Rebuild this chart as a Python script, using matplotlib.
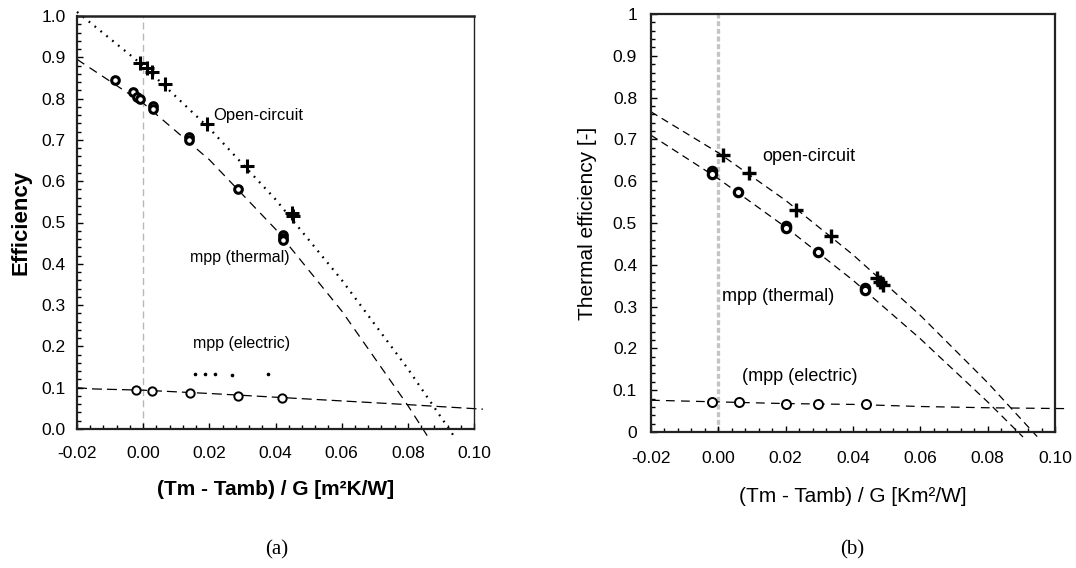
import matplotlib
matplotlib.use("Agg")
import matplotlib.pyplot as plt
from matplotlib.ticker import MultipleLocator, FixedLocator, FixedFormatter

plt.rcParams['font.family'] = ['Liberation Sans', 'DejaVu Sans']

# ---------------- Panel (a) data ----------------
a_oc_x = [-0.0009, 0.0011, 0.0026, 0.0067, 0.0193, 0.0313, 0.0450, 0.0452]
a_oc_y = [0.885, 0.873, 0.865, 0.835, 0.738, 0.636, 0.522, 0.515]

a_mppt_x = [-0.0085, -0.0030, -0.0020, -0.0010, 0.0029, 0.0030, 0.0140, 0.0140, 0.0288, 0.0422, 0.0422, 0.0423]
a_mppt_y = [0.845, 0.815, 0.805, 0.800, 0.782, 0.776, 0.707, 0.699, 0.580, 0.470, 0.463, 0.458]

a_mppe_x = [-0.0021, 0.0027, 0.0142, 0.0286, 0.0419]
a_mppe_y = [0.095, 0.091, 0.087, 0.079, 0.075]

a_oce_x = [0.0157, 0.0187, 0.0218, 0.0268, 0.0376]
a_oce_y = [0.132, 0.132, 0.132, 0.131, 0.132]

# curves
a_fit_oc_x = [-0.020, 0.000, 0.020, 0.040, 0.060, 0.080, 0.094]
a_fit_oc_y = [1.010, 0.880, 0.728, 0.556, 0.361, 0.146, -0.018]
a_fit_mppt_x = [-0.020, 0.000, 0.020, 0.040, 0.060, 0.080, 0.086]
a_fit_mppt_y = [0.895, 0.789, 0.652, 0.484, 0.286, 0.057, -0.018]
a_fit_mppe_x = [-0.020, -0.015, 0.000, 0.020, 0.040, 0.060, 0.080, 0.1027]
a_fit_mppe_y = [0.100, 0.097, 0.094, 0.086, 0.077, 0.068, 0.059, 0.048]

# ---------------- Panel (b) data ----------------
b_oc_x = [0.0013, 0.0090, 0.0231, 0.0334, 0.0470, 0.0480, 0.0490]
b_oc_y = [0.663, 0.619, 0.531, 0.469, 0.368, 0.360, 0.352]

b_mppt_x = [-0.0019, -0.0019, 0.0058, 0.0201, 0.0201, 0.0295, 0.0436, 0.0436]
b_mppt_y = [0.624, 0.618, 0.574, 0.493, 0.489, 0.431, 0.344, 0.340]

b_mppe_x = [-0.0019, 0.0060, 0.0201, 0.0295, 0.0439]
b_mppe_y = [0.0726, 0.0726, 0.067, 0.067, 0.067]

b_fit_oc_x = [-0.020, 0.000, 0.020, 0.040, 0.060, 0.080, 0.0947]
b_fit_oc_y = [0.766, 0.668, 0.554, 0.424, 0.279, 0.118, -0.011]
b_fit_mppt_x = [-0.020, 0.000, 0.020, 0.040, 0.060, 0.080, 0.0905]
b_fit_mppt_y = [0.710, 0.606, 0.490, 0.363, 0.223, 0.072, -0.012]
b_fit_mppe_x = [-0.020, 0.000, 0.020, 0.040, 0.060, 0.080, 0.1027]
b_fit_mppe_y = [0.076, 0.072, 0.068, 0.066, 0.061, 0.058, 0.056]

x_ticks = [-0.02, 0.00, 0.02, 0.04, 0.06, 0.08, 0.10]
x_ticklabels = ["-0.02", "0.00", "0.02", "0.04", "0.06", "0.08", "0.10"]
a_y_ticks = [0.0, 0.1, 0.2, 0.3, 0.4, 0.5, 0.6, 0.7, 0.8, 0.9, 1.0]
a_y_ticklabels = ["0.0", "0.1", "0.2", "0.3", "0.4", "0.5", "0.6", "0.7", "0.8", "0.9", "1.0"]
b_y_ticklabels = ["0", "0.1", "0.2", "0.3", "0.4", "0.5", "0.6", "0.7", "0.8", "0.9", "1"]

fig = plt.figure(figsize=(10.76, 5.68), dpi=100)
W, H = 1076, 568
axa = fig.add_axes([77 / W, 1 - 429 / H, 397 / W, 413 / H])
axb = fig.add_axes([651 / W, 1 - 432 / H, 404 / W, 418 / H])

for ax in (axa, axb):
    ax.set_xlim(-0.02, 0.10)
    ax.set_ylim(0, 1.0)
    ax.xaxis.set_major_locator(FixedLocator(x_ticks))
    ax.xaxis.set_major_formatter(FixedFormatter(x_ticklabels))
    ax.xaxis.set_minor_locator(MultipleLocator(0.004))
    ax.yaxis.set_major_locator(FixedLocator(a_y_ticks))
    ax.yaxis.set_minor_locator(MultipleLocator(0.02))
    ax.tick_params(which='both', direction='in', top=False, right=False, width=1, colors='black')
    ax.tick_params(which='major', length=4, labelsize=12.5)
    ax.tick_params(which='minor', length=3)
    for s in ax.spines.values():
        s.set_color('#222222')
        s.set_linewidth(1.6)

axa.yaxis.set_major_formatter(FixedFormatter(a_y_ticklabels))
axb.yaxis.set_major_formatter(FixedFormatter(b_y_ticklabels))
axa.tick_params(axis='x', pad=12)
axa.tick_params(axis='y', pad=8)
axb.tick_params(axis='x', pad=14)
axb.tick_params(axis='y', pad=10)
axa.spines['right'].set_linewidth(1.0)
axa.spines['top'].set_linewidth(1.8)

# ---- panel (a) ----
axa.plot([0, 0], [0, 1.0], color='#b8b8b8', lw=1.0, dashes=(5, 3), zorder=1)
axa.plot(a_fit_oc_x, a_fit_oc_y, color='black', lw=1.6, dashes=(0.8, 2.6), clip_on=False, zorder=2)
axa.plot(a_fit_mppt_x, a_fit_mppt_y, color='black', lw=0.9, dashes=(7, 5), clip_on=False, zorder=2)
axa.plot(a_fit_mppe_x, a_fit_mppe_y, color='black', lw=0.9, dashes=(8, 4), clip_on=False, zorder=2)
axa.plot(a_oce_x, a_oce_y, ls='none', marker='o', ms=1.6, color='black', zorder=3)
axa.plot(a_mppt_x, a_mppt_y, ls='none', marker='o', ms=5.5, mfc='white', mec='black', mew=2.2, zorder=4)
axa.plot(a_mppe_x, a_mppe_y, ls='none', marker='o', ms=6, mfc='white', mec='black', mew=1.4, zorder=4)
axa.plot(a_oc_x, a_oc_y, ls='none', marker='+', ms=10, mec='black', mew=2.2, zorder=5)

axa.text(0.0212, 0.76, "Open-circuit", fontsize=12, va='center', ha='left')
axa.text(0.0142, 0.416, "mpp (thermal)", fontsize=11.5, va='center', ha='left')
axa.text(0.0152, 0.206, "mpp (electric)", fontsize=11.5, va='center', ha='left')

axa.set_ylabel("Efficiency", fontsize=16, fontweight='bold')
axa.yaxis.set_label_coords(-0.114, 0.5)
axa.set_xlabel("(Tm - Tamb) / G [m²K/W]", fontsize=15, fontweight='bold')
axa.xaxis.set_label_coords(0.5, -0.123)

# ---- panel (b) ----
axb.plot([0, 0], [0, 1.0], color='#c4c4c4', lw=2.4, dashes=(1.5, 0.8), zorder=1)
axb.plot(b_fit_oc_x, b_fit_oc_y, color='black', lw=0.9, dashes=(6, 4), clip_on=False, zorder=2)
axb.plot(b_fit_mppt_x, b_fit_mppt_y, color='black', lw=0.9, dashes=(6, 4), clip_on=False, zorder=2)
axb.plot(b_fit_mppe_x, b_fit_mppe_y, color='black', lw=0.9, dashes=(7, 5), clip_on=False, zorder=2)
axb.plot(b_mppt_x, b_mppt_y, ls='none', marker='o', ms=6, mfc='white', mec='black', mew=2.3, zorder=4)
axb.plot(b_mppe_x, b_mppe_y, ls='none', marker='o', ms=6.5, mfc='white', mec='black', mew=1.4, zorder=4)
axb.plot(b_oc_x, b_oc_y, ls='none', marker='+', ms=10, mec='black', mew=2.4, zorder=5)

axb.text(0.0129, 0.659, "open-circuit", fontsize=13, va='center', ha='left')
axb.text(0.0010, 0.324, "mpp (thermal)", fontsize=13, va='center', ha='left')
axb.text(0.0070, 0.132, "(mpp (electric)", fontsize=13, va='center', ha='left')

axb.set_ylabel("Thermal efficiency [-]", fontsize=15)
axb.yaxis.set_label_coords(-0.134, 0.5)
axb.set_xlabel("(Tm - Tamb) / G [Km²/W]", fontsize=15)
axb.xaxis.set_label_coords(0.5, -0.132)

fig.text(277 / W, 1 - 550 / H, "(a)", fontsize=15, family=['Liberation Serif', 'DejaVu Serif'], ha='center', va='center')
fig.text(852 / W, 1 - 550 / H, "(b)", fontsize=15, family=['Liberation Serif', 'DejaVu Serif'], ha='center', va='center')

fig.savefig("out.png", dpi=100)
